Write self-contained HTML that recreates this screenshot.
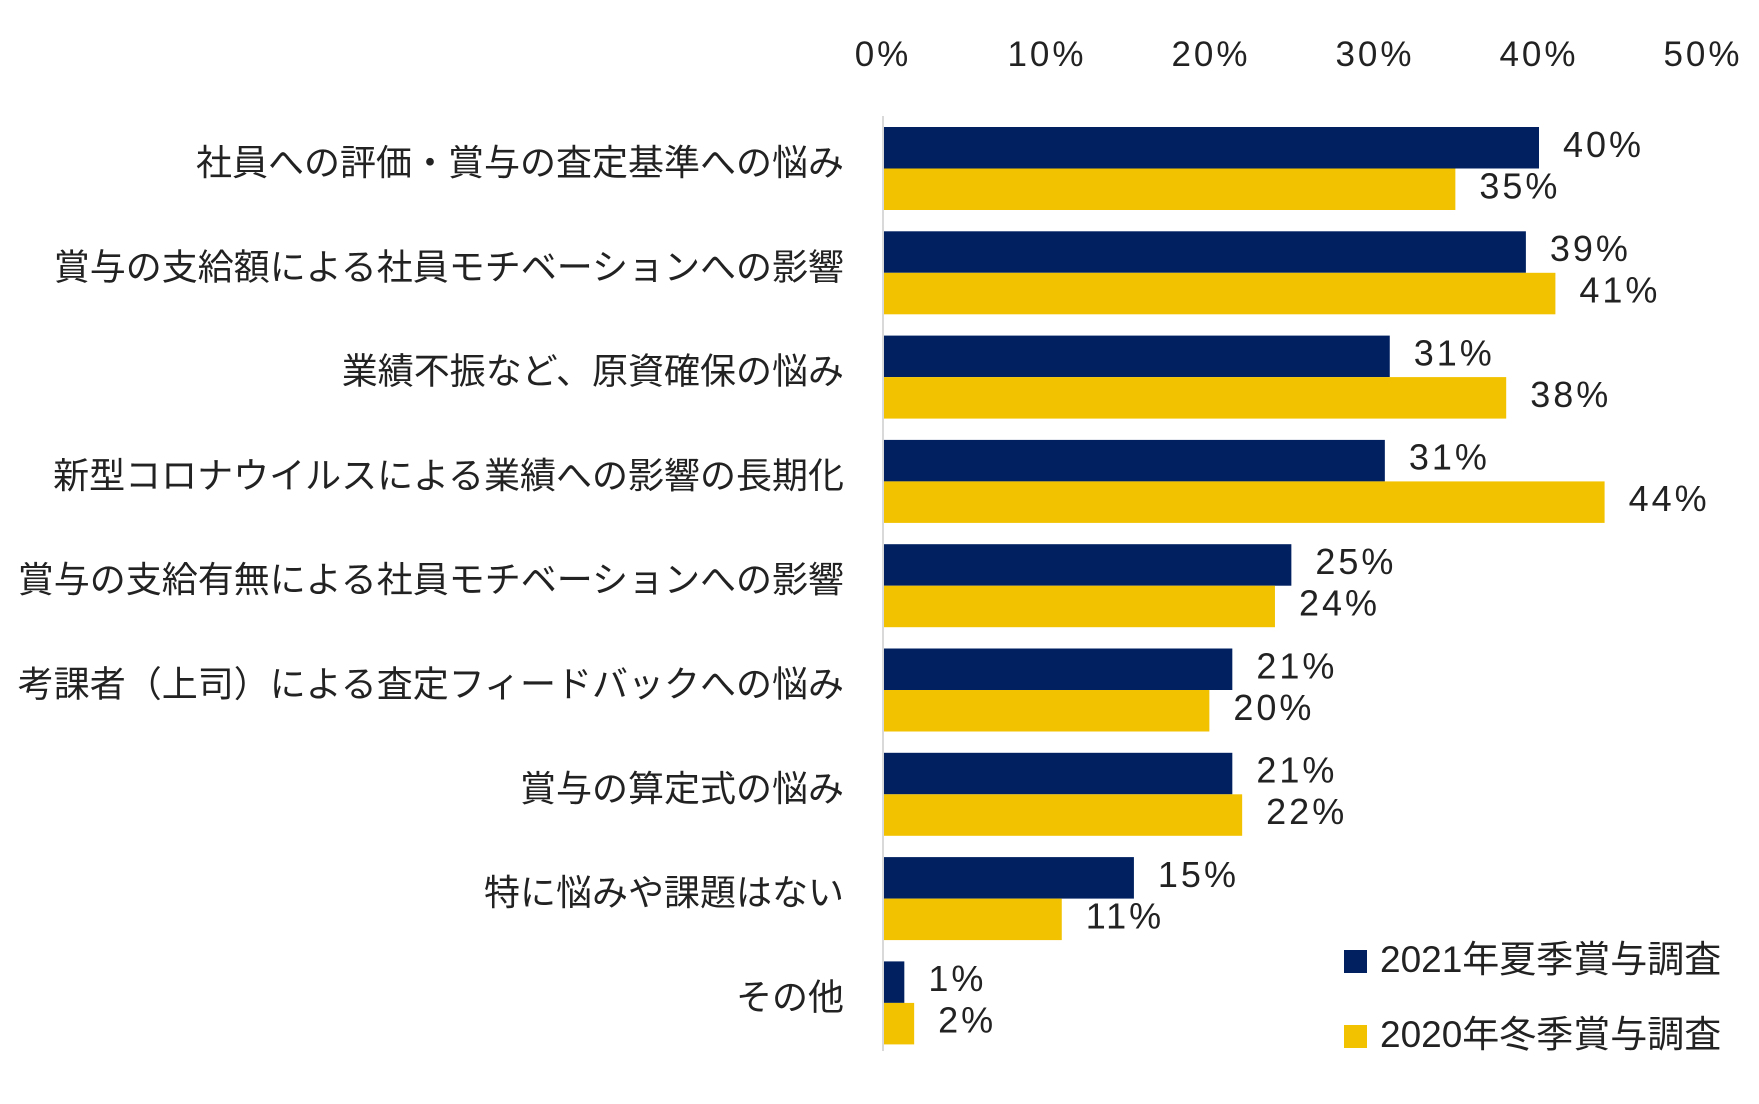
<!DOCTYPE html>
<html><head><meta charset="utf-8"><style>
body{margin:0;background:#fff;width:1759px;height:1104px;overflow:hidden}
svg{display:block}
text{font-family:"Liberation Sans","Noto Sans CJK JP",sans-serif;fill:#222}
</style></head><body>
<svg id="chart" width="1759" height="1104"></svg>
<script>
const categories=["社員への評価・賞与の査定基準への悩み","賞与の支給額による社員モチベーションへの影響","業績不振など、原資確保の悩み","新型コロナウイルスによる業績への影響の長期化","賞与の支給有無による社員モチベーションへの影響","考課者（上司）による査定フィードバックへの悩み","賞与の算定式の悩み","特に悩みや課題はない","その他"];
const series2021=[40,39.2,30.9,30.6,24.9,21.3,21.3,15.3,1.3];
const series2020=[34.9,41,38,44,23.9,19.9,21.9,10.9,1.9];
const tickValues=[0,10,20,30,40,50];
const seriesNames=["2021年夏季賞与調査","2020年冬季賞与調査"];
const colors=["#002060","#F2C200"];
const svg=document.getElementById('chart');
const NS="http://www.w3.org/2000/svg";
const x0=883,pxPer=16.4,top0=127,step=104.3,barH=41.5;
const xs=v=>x0+v*pxPer;
const yRow=i=>top0+i*step;
function mk(tag,attrs){const e=document.createElementNS(NS,tag);for(const k in attrs)e.setAttribute(k,attrs[k]);svg.appendChild(e);return e;}
tickValues.forEach(t=>{
  const e=mk('text',{x:xs(t),y:66,'font-size':35,'text-anchor':'middle','letter-spacing':3});
  e.textContent=t+'%';
  
  
});
const ax=mk('line',{x1:x0,y1:116,x2:x0,y2:1051,stroke:'#d9d9d9','stroke-width':2});


categories.forEach((c,i)=>{
  const y=yRow(i);
  const l=mk('text',{x:844,y:y+48,'font-size':36,'text-anchor':'end'});
  l.textContent=c;
  
  
  [series2021[i],series2020[i]].forEach((v,s)=>{
    const by=y+s*barH;
    const r=mk('rect',{x:x0+1,y:by,width:xs(v)-x0-1,height:barH,fill:colors[s]});
    
    
    const t=mk('text',{x:xs(v)+24,y:by+barH/2+9,'font-size':36,'letter-spacing':3});
    t.textContent=Math.round(v)+'%';
    
    
  });
});
seriesNames.forEach((n,s)=>{
  const y=950+s*75;
  const r=mk('rect',{x:1344,y:y,width:23,height:23,fill:colors[s]});
  
  
  const t=mk('text',{x:1380,y:y+22,'font-size':37});
  t.textContent=n;
  
  
});
</script>
</body></html>
